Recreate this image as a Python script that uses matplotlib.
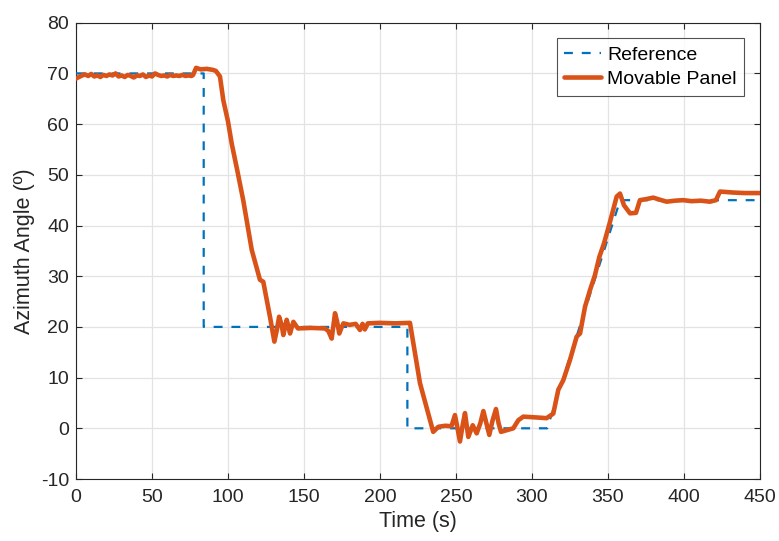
import matplotlib
matplotlib.use("Agg")
import matplotlib.pyplot as plt
import numpy as np

# Reference signal (time s, angle deg)
ref_t = [0, 84, 84, 218, 218, 310, 358, 450]
ref_y = [70, 70, 20, 20, 0, 0, 45, 45]

# Movable panel measured response (time s, angle deg)
pan_t = [0, 2, 4, 6, 8, 10, 12, 14, 16, 18, 20, 22, 24, 26, 28, 30, 32, 34, 36, 38,
         40, 42, 44, 46, 48, 50, 52, 54, 56, 58, 60, 62, 64, 66, 68, 70, 72, 74, 76,
         77, 79, 82, 86, 90, 92, 94.7, 96.9, 100, 102.4, 106, 110, 115.6, 121, 123.2,
         127.6, 130.5, 132.2, 133.6, 135.2, 136.4, 137.6, 138.6, 139.8, 140.8, 142, 143,
         146, 155, 163.8, 166, 168.2, 169.4, 170.4, 171.8, 173.2, 174.6, 175.9, 180, 184,
         186.8, 188.5, 190, 192, 200, 210, 219.7, 226.3, 235, 238.4, 243, 247, 249.3,
         251, 252.6, 254.3, 255.9, 258.1, 261, 263.6, 266, 268, 270, 271.9, 274, 276.3,
         278, 279.6, 283, 287.7, 291, 294.3, 300, 305, 309.6, 314, 317.3, 320.6, 325,
         329.4, 331.6, 334.9, 338.2, 341.4, 344.3, 347.4, 351.3, 355.7, 357.9, 360.5,
         364.5, 368.4, 371, 375, 379.8, 384, 388.6, 394, 399.5, 405, 411, 417, 421,
         423.7, 432.5, 440, 450]
pan_y = [69.0, 69.3, 69.6, 69.8, 69.5, 69.9, 69.4, 69.6, 69.3, 69.7, 69.5, 69.8, 69.6,
         70.0, 69.4, 69.6, 69.3, 69.7, 69.5, 69.2, 69.6, 69.5, 69.8, 69.3, 69.6, 69.4,
         70.0, 69.7, 69.5, 69.6, 69.4, 69.7, 69.5, 69.6, 69.5, 69.7, 69.5, 69.6, 69.5,
         69.7, 71.1, 70.8, 70.9, 70.7, 70.5, 69.4, 64.7, 60.5, 56.2, 51.0, 45.0, 35.2,
         29.3, 28.9, 22.0, 17.1, 19.5, 22.0, 20.5, 18.4, 20.0, 21.4, 20.0, 18.7, 20.0,
         21.0, 19.7, 19.8, 19.7, 19.2, 17.7, 20.5, 22.7, 21.0, 18.7, 19.8, 20.7, 20.4,
         20.6, 19.4, 20.6, 19.5, 20.7, 20.8, 20.7, 20.8, 8.9, -0.7, 0.3, 0.5, 0.4, 2.6,
         0.0, -2.6, 0.5, 3.0, -1.7, 0.6, -1.0, 1.0, 3.4, 1.0, -1.3, 1.5, 3.8, 1.0, -0.7,
         -0.4, 0.0, 1.6, 2.3, 2.2, 2.1, 2.0, 2.9, 7.6, 9.5, 13.5, 18.1, 18.7, 24.0,
         27.3, 30.2, 33.8, 36.5, 40.7, 45.7, 46.3, 44.0, 42.4, 42.5, 45.0, 45.2, 45.5,
         45.1, 44.7, 44.9, 45.0, 44.8, 44.9, 44.7, 45.0, 46.7, 46.5, 46.4, 46.4]

x_ticks = [0, 50, 100, 150, 200, 250, 300, 350, 400, 450]
y_ticks = [-10, 0, 10, 20, 30, 40, 50, 60, 70, 80]

plt.rcParams['font.family'] = ['Liberation Sans', 'DejaVu Sans']
plt.rcParams['axes.unicode_minus'] = False

fig = plt.figure(figsize=(7.79, 5.41), dpi=100)
ax = fig.add_axes([0.0976, 0.1146, 0.8780, 0.8434])

ax.plot(ref_t, ref_y, color='#0072BD', lw=1.6, ls=(0, (4, 4)), label='Reference', zorder=3)
ax.plot(pan_t, pan_y, color='#D95319', lw=3.3, label='Movable Panel', zorder=4,
        solid_joinstyle='round', solid_capstyle='round')

ax.set_xlim(0, 450)
ax.set_ylim(-10, 80)
ax.set_xticks(x_ticks)
ax.set_yticks(y_ticks)
ax.grid(True, color='#e3e3e3', lw=0.9)
ax.set_axisbelow(True)
ax.tick_params(direction='in', top=True, right=True, labelsize=14, colors='#262626',
               length=4, pad=5)
ax.tick_params(axis='x', pad=7)
for s in ax.spines.values():
    s.set_color('#262626')
    s.set_linewidth(0.8)
ax.set_xlabel('Time (s)', fontsize=15.5, color='#262626', labelpad=4)
ax.set_ylabel('Azimuth Angle (º)', fontsize=15.5, color='#262626', labelpad=4)

leg = ax.legend(loc='upper right', fontsize=14, frameon=True, fancybox=False,
                edgecolor='#262626', borderaxespad=0.8, handlelength=1.9,
                handletextpad=0.3, borderpad=0.4, labelspacing=0.35)
leg.get_frame().set_linewidth(0.8)

fig.savefig('out.png', dpi=100)
